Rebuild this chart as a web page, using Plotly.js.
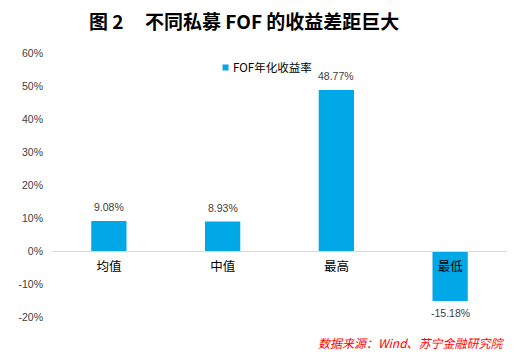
<!DOCTYPE html>
<html>
<head>
<meta charset="utf-8">
<script src="https://cdn.plot.ly/plotly-3.0.1.min.js"></script>
<style>html,body{margin:0;padding:0;background:#fff;}#chart{width:514px;height:355px;}</style>
</head>
<body>
<div id="chart"></div>
<script>
var categories = ['均值', '中值', '最高', '最低'];
var values = [9.08, 8.93, 48.77, -15.18];
var seriesName = 'FOF年化收益率';
var yTickVals = [-20, -10, 0, 10, 20, 30, 40, 50, 60];
var yTickText = ['-20%', '-10%', '0%', '10%', '20%', '30%', '40%', '50%', '60%'];

var FONT = 'Liberation Sans, Noto Sans CJK SC, sans-serif';
var CJK = 'Noto Sans CJK SC, sans-serif';
var yMin = -20, yMax = 60;

var annotations = values.map(function (v, i) {
  return {
    x: categories[i], y: v, xref: 'x', yref: 'y',
    text: v.toFixed(2) + '%', showarrow: false,
    yanchor: v >= 0 ? 'bottom' : 'top',
    yshift: v >= 0 ? 6 : -4,
    font: {family: FONT, size: 10.5, color: '#404040'}
  };
});
annotations.push({
  xref: 'paper', yref: 'paper', x: 1, y: -0.095, xanchor: 'right', yanchor: 'middle',
  text: '<i>数据来源：Wind、苏宁金融研究院</i>', showarrow: false,
  font: {family: CJK, size: 12, color: '#ff0000'}
});

var trace = {
  type: 'bar', x: categories, y: values, name: seriesName,
  marker: {color: '#00a8e8'}, showlegend: true, hoverinfo: 'none'
};

var layout = {
  width: 514, height: 355,
  margin: {l: 52, r: 7, t: 53, b: 38},
  paper_bgcolor: '#ffffff', plot_bgcolor: '#ffffff',
  title: {
    text: '图 2\u00a0\u00a0\u00a0\u00a0\u00a0不同私募 FOF 的收益差距巨大',
    font: {family: CJK, size: 19, color: '#000000', weight: 'bold'},
    x: 0.475, xanchor: 'center', xref: 'container',
    y: 1 - 22 / 355, yanchor: 'middle', yref: 'container'
  },
  bargap: 0.69,
  xaxis: {
    type: 'category', anchor: 'free', position: (0 - yMin) / (yMax - yMin),
    showline: true, linecolor: '#d9d9d9', linewidth: 1,
    ticks: '', showgrid: false, zeroline: false,
    tickfont: {family: CJK, size: 12.5, color: '#000000'},
    ticklabelstandoff: 4, fixedrange: true
  },
  yaxis: {
    range: [yMin, yMax], tickvals: yTickVals, ticktext: yTickText,
    showgrid: false, zeroline: false, showline: false, ticks: '',
    tickfont: {family: FONT, size: 10.5, color: '#404040'},
    ticklabelstandoff: 8, fixedrange: true
  },
  legend: {
    x: 0.31, y: 1.0, xanchor: 'left', yanchor: 'top', xref: 'paper', yref: 'paper',
    bgcolor: 'rgba(0,0,0,0)', font: {family: CJK, size: 11.5, color: '#000000'},
    itemwidth: 30
  },
  annotations: annotations,
  showlegend: true
};

Plotly.newPlot('chart', [trace], layout, {displayModeBar: false, staticPlot: true}).then(function (gd) {
  // smaller legend swatch placed next to its text, like the reference
  var pts = gd.querySelectorAll('.legend .legendpoints path');
  pts.forEach(function (p) {
    p.setAttribute('d', 'M15.5,3H9.5V-3H15.5Z');
  });
});
</script>
</body>
</html>
